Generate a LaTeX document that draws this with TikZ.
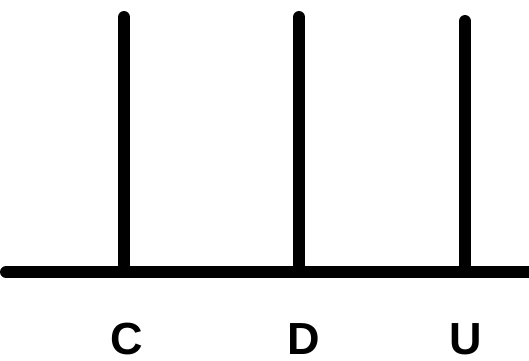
\documentclass[tikz,border=0pt]{standalone}
\usepackage{fontspec}
\setmainfont{Liberation Sans}
\usepackage{tikz}
\usetikzlibrary{positioning}
\tikzset{
  post/.style={draw=black, line width=12pt, line cap=round},
  base/.style={draw=black, line width=12pt, line cap=round},
  tag/.style={font=\fontsize{45}{45}\selectfont\bfseries, inner sep=0pt, anchor=base},
}

\begin{document}
\begin{tikzpicture}[x=1pt, y=-1pt]
\useasboundingbox (0,0) rectangle (529,360);
% base line
\coordinate (left) at (6,272);
\coordinate (right) at (535,272);
\draw[base] (left) -- (right);
% posts
\coordinate (cTop) at (124,17);
\coordinate (cFoot) at (124,272);
\coordinate (dTop) at (299,17);
\coordinate (dFoot) at (299,272);
\coordinate (uTop) at (465,21);
\coordinate (uFoot) at (465,272);
\draw[post] (cTop) -- (cFoot);
\draw[post] (dTop) -- (dFoot);
\draw[post] (uTop) -- (uFoot);
% labels
\node[tag] (cLab) at (127,354) {C};
\node[tag] (dLab) at (304,354) {D};
\node[tag] (uLab) at (466,354) {U};
\end{tikzpicture}
\end{document}
